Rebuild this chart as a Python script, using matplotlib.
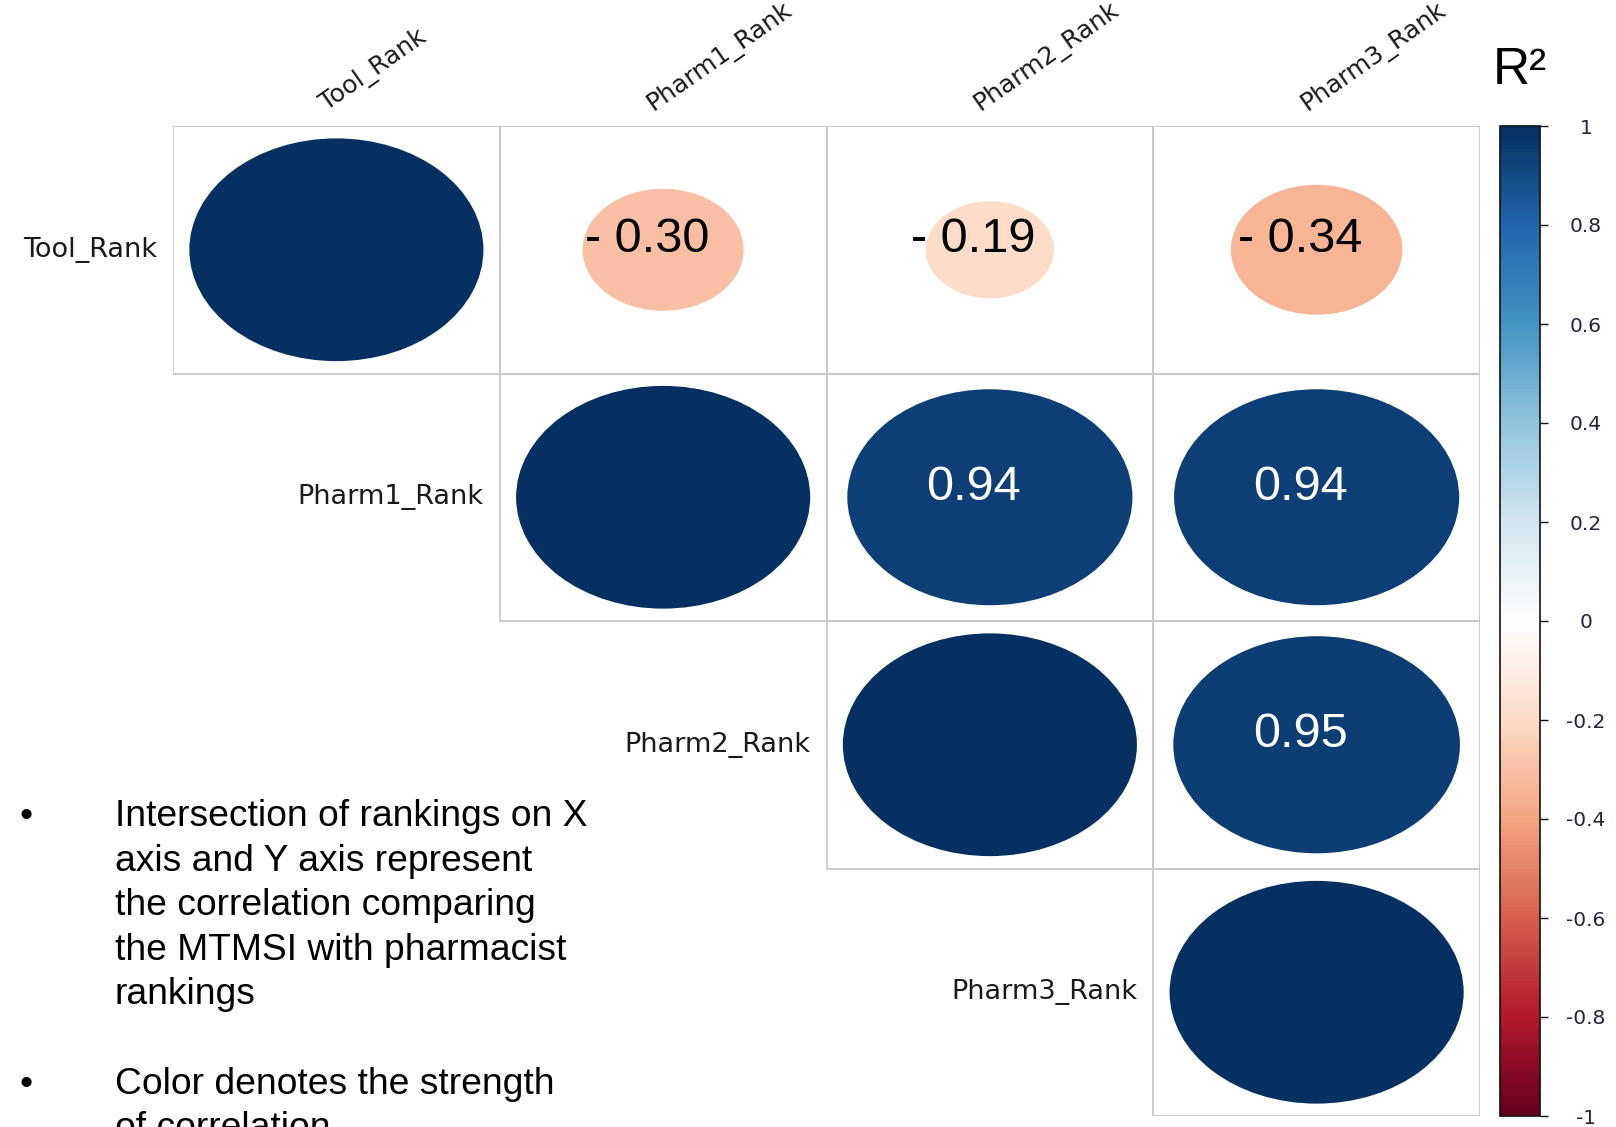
import numpy as np
import matplotlib.pyplot as plt
from matplotlib.patches import Ellipse, Rectangle
from matplotlib.colors import LinearSegmentedColormap, Normalize
import matplotlib.colorbar as mcolorbar

# rank variables and the upper triangle of the correlation matrix
ranks = ["Tool_Rank", "Pharm1_Rank", "Pharm2_Rank", "Pharm3_Rank"]
row_tool = [1.00, -0.30, -0.19, -0.34]
row_pharm1 = [1.00, 0.94, 0.94]
row_pharm2 = [1.00, 0.95]
row_pharm3 = [1.00]
cbar_ticks = [1, 0.8, 0.6, 0.4, 0.2, 0, -0.2, -0.4, -0.6, -0.8, -1]
cbar_labels = ["1", "0.8", "0.6", "0.4", "0.2", "0", "-0.2", "-0.4", "-0.6", "-0.8", "-1"]

notes = ["Intersection of rankings on X",
         "axis and Y axis represent",
         "the correlation comparing",
         "the MTMSI with pharmacist",
         "rankings",
         "",
         "Color denotes the strength",
         "of correlation"]

rows = [row_tool, row_pharm1, row_pharm2, row_pharm3]

# corrplot style red-blue palette
col2 = ["#67001F", "#B2182B", "#D6604D", "#F4A582", "#FDDBC7", "#FFFFFF",
        "#D1E5F0", "#92C5DE", "#4393C3", "#2166AC", "#053061"]
cmap = LinearSegmentedColormap.from_list("corr_rdbu", col2)
norm = Normalize(-1, 1)

W, H = 1616, 1127
fig = plt.figure(figsize=(W / 100, H / 100), dpi=100)

# matrix area in pixels: x 173..1480, y 126..1116
ax = fig.add_axes([173 / W, 1 - 1116 / H, (1480 - 173) / W, (1116 - 126) / H])
ax.set_xlim(0, 4)
ax.set_ylim(4, 0)
ax.axis("off")

for i, vals in enumerate(rows):
    for k, v in enumerate(vals):
        j = i + k
        ax.add_patch(Rectangle((j, i), 1, 1, fill=False, edgecolor="#c8c8c8",
                               lw=1.3, zorder=1))
        d = 0.9 * np.sqrt(abs(v))
        ax.add_patch(Ellipse((j + 0.5, i + 0.5), d, d, facecolor=cmap(norm(v)),
                             edgecolor="none", zorder=2))
        if i != j:
            txt = f"- {abs(v):.2f}" if v < 0 else f"{v:.2f}"
            ax.text(j + 0.45, i + 0.46, txt, ha="center", va="center",
                    fontsize=35, family="Liberation Sans",
                    color="white" if v > 0.5 else "black", zorder=3)
    # row label left of the diagonal cell
    ax.text(i - 0.05, i + 0.5, ranks[i], ha="right", va="center", fontsize=19.5,
            family="DejaVu Sans", color="#1a1a1a")
    # column label on top
    ax.text(i + 0.48, -0.04, ranks[i], ha="left", va="bottom", rotation=35,
            rotation_mode="anchor", fontsize=18, family="DejaVu Sans",
            color="#1a1a1a", clip_on=False)

# colour legend
cax = fig.add_axes([1500 / W, 1 - 1116 / H, 40 / W, (1116 - 126) / H])
cb = mcolorbar.ColorbarBase(cax, cmap=cmap, norm=norm, orientation="vertical")
cb.outline.set_linewidth(1.2)
cb.outline.set_edgecolor("#111111")
cb.set_ticks(cbar_ticks)
cb.set_ticklabels(cbar_labels)
cax.tick_params(axis="y", length=6, width=1, color="#111111", pad=27,
                labelsize=14.5, labelcolor="#2a2040")
for lab in cax.get_yticklabels():
    lab.set_horizontalalignment("center")
    lab.set_family("DejaVu Sans")

fig.text(1520 / W, 1 - 70 / H, "R²", ha="center", va="center", fontsize=37,
         family="Liberation Sans")

# bullet notes
y0 = 826
step = 44.6
for k, line in enumerate(notes):
    yy = 1 - (y0 + k * step) / H
    fig.text(115 / W, yy, line, ha="left", va="baseline", fontsize=26.8,
             family="Liberation Sans")
    if k in (0, 6):
        fig.text(26 / W, yy, "•", ha="center", va="baseline", fontsize=26.8,
                 family="Liberation Sans")

fig.savefig("out.png", dpi=100)
